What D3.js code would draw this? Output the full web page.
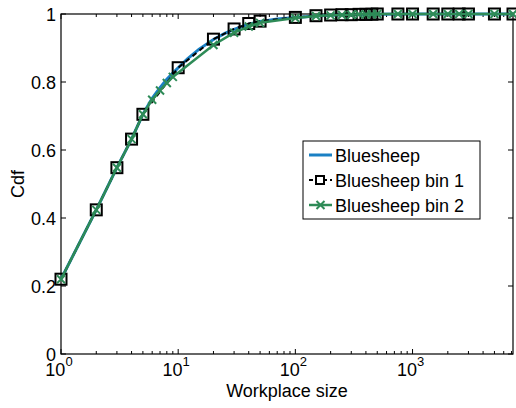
<!DOCTYPE html>
<html>
<head>
<meta charset="utf-8">
<script src="https://cdn.jsdelivr.net/npm/d3@7"></script>
<style>
  body { margin: 0; background: #fff; }
  text { font-family: Helvetica, Arial, "Liberation Sans", sans-serif; fill: #000; }
</style>
</head>
<body>
<svg id="chart" width="516" height="408"></svg>
<script>
// unbinned cdf
var blueX = [1, 2, 3, 4, 5, 6, 7, 8, 9, 10, 12, 15, 20, 25, 30, 40, 50, 60, 70, 80, 100, 150, 200, 300, 400, 500, 1000, 2000, 7200];
var blueY = [0.22, 0.424, 0.548, 0.632, 0.705, 0.752, 0.783, 0.808, 0.826, 0.842, 0.868, 0.896, 0.925, 0.943, 0.955, 0.970, 0.978, 0.982, 0.985, 0.987, 0.990, 0.994, 0.996, 0.998, 0.999, 0.9995, 1, 1, 1];

// bin 1 (squares)
var bin1X = [1, 2, 3, 4, 5, 10, 20, 30, 40, 50, 100, 150, 200, 250, 300, 350, 400, 450, 500, 750, 1000, 1500, 2000, 2500, 3000, 5000, 7200];
var bin1Y = [0.22, 0.424, 0.548, 0.632, 0.705, 0.842, 0.926, 0.956, 0.972, 0.979, 0.990, 0.995, 0.997, 0.998, 0.998, 0.999, 0.999, 0.9995, 1, 1, 1, 1, 1, 1, 1, 1, 1];

// bin 2 (crosses)
var bin2X = [1, 2, 3, 4, 5, 6, 7, 8, 9, 20, 30, 40, 50, 100, 150, 200, 250, 300, 350, 400, 450, 500, 750, 1000, 1500, 2000, 2500, 3000, 5000, 7200];
var bin2Y = [0.22, 0.424, 0.548, 0.632, 0.705, 0.748, 0.775, 0.797, 0.815, 0.909, 0.945, 0.963, 0.974, 0.988, 0.994, 0.996, 0.997, 0.998, 0.999, 0.999, 0.9995, 1, 1, 1, 1, 1, 1, 1, 1, 1];

var yTicks = [0, 0.2, 0.4, 0.6, 0.8, 1];
var yTickLabels = ["0", "0.2", "0.4", "0.6", "0.8", "1"];
var xTicks = [1, 10, 100, 1000];
var xTickExp = ["0", "1", "2", "3"];
var legendNames = ["Bluesheep", "Bluesheep bin 1", "Bluesheep bin 2"];

var blue = "#1a80c4";
var green = "#2e8b57";

var pLeft = 61, pRight = 513, pTop = 14, pBottom = 354;

var svg = d3.select("#chart");

var x = d3.scaleLog().domain([1, 7200]).range([pLeft, pRight]);
var y = d3.scaleLinear().domain([0, 1]).range([pBottom, pTop]);

// minor ticks on log axis
var minor = [];
for (let d = 1; d <= 1000; d *= 10) {
  for (let k = 2; k <= 9; k++) {
    if (d * k <= 7200) minor.push(d * k);
  }
}

var axes = svg.append("g");

// ticks inward on all sides
minor.forEach((v) => {
  axes.append("line").attr("x1", x(v)).attr("x2", x(v)).attr("y1", pBottom).attr("y2", pBottom - 3).attr("stroke", "#000");
  axes.append("line").attr("x1", x(v)).attr("x2", x(v)).attr("y1", pTop).attr("y2", pTop + 3).attr("stroke", "#000");
});
xTicks.forEach((v) => {
  axes.append("line").attr("x1", x(v)).attr("x2", x(v)).attr("y1", pBottom).attr("y2", pBottom - 5).attr("stroke", "#000");
  axes.append("line").attr("x1", x(v)).attr("x2", x(v)).attr("y1", pTop).attr("y2", pTop + 5).attr("stroke", "#000");
});
yTicks.forEach((v) => {
  axes.append("line").attr("x1", pLeft).attr("x2", pLeft + 5).attr("y1", y(v)).attr("y2", y(v)).attr("stroke", "#000");
  axes.append("line").attr("x1", pRight).attr("x2", pRight - 5).attr("y1", y(v)).attr("y2", y(v)).attr("stroke", "#000");
});

axes.append("rect")
  .attr("x", pLeft).attr("y", pTop)
  .attr("width", pRight - pLeft).attr("height", pBottom - pTop)
  .attr("fill", "none").attr("stroke", "#000").attr("stroke-width", 1.2);

// tick labels
yTicks.forEach((v, i) => {
  axes.append("text")
    .attr("x", pLeft - 5).attr("y", y(v) + 6.5)
    .attr("text-anchor", "end")
    .style("font-size", "18px")
    .text(yTickLabels[i]);
});

xTicks.forEach((v, i) => {
  const t = axes.append("text")
    .attr("x", x(v) - 2).attr("y", 376)
    .attr("text-anchor", "middle")
    .style("font-size", "18px");
  t.append("tspan").text("10");
  t.append("tspan").attr("dy", -10).style("font-size", "13px").text(xTickExp[i]);
});

axes.append("text")
  .attr("x", 287).attr("y", 397)
  .attr("text-anchor", "middle")
  .style("font-size", "18px")
  .text("Workplace size");

axes.append("text")
  .attr("transform", "translate(24," + (pTop + pBottom) / 2 + ") rotate(-90)")
  .attr("text-anchor", "middle")
  .style("font-size", "18px")
  .text("Cdf");

var line = d3.line().x((d) => x(d[0])).y((d) => y(d[1]));

var blueData = blueX.map((v, i) => [v, blueY[i]]);
var bin1Data = bin1X.map((v, i) => [v, bin1Y[i]]);
var bin2Data = bin2X.map((v, i) => [v, bin2Y[i]]);

var plot = svg.append("g");

plot.append("path").datum(blueData).attr("d", line)
  .attr("fill", "none").attr("stroke", blue).attr("stroke-width", 3);

plot.append("path").datum(bin1Data).attr("d", line)
  .attr("fill", "none").attr("stroke", "#000").attr("stroke-width", 2)
  .attr("stroke-dasharray", "5,4");

plot.selectAll("rect.sq").data(bin1Data).enter().append("rect")
  .attr("class", "sq")
  .attr("x", (d) => x(d[0]) - 5.5).attr("y", (d) => y(d[1]) - 5.5)
  .attr("width", 11).attr("height", 11)
  .attr("fill", "none").attr("stroke", "#000").attr("stroke-width", 2);

plot.append("path").datum(bin2Data).attr("d", line)
  .attr("fill", "none").attr("stroke", green).attr("stroke-width", 2.5);

plot.selectAll("path.cx").data(bin2Data).enter().append("path")
  .attr("class", "cx")
  .attr("transform", (d) => "translate(" + x(d[0]) + "," + y(d[1]) + ")")
  .attr("d", "M-4,-4L4,4M-4,4L4,-4")
  .attr("stroke", green).attr("stroke-width", 2);

// legend
var legend = svg.append("g");
legend.append("rect")
  .attr("x", 303).attr("y", 141).attr("width", 177).attr("height", 78)
  .attr("fill", "#fff").attr("stroke", "#000").attr("stroke-width", 1);

var ly = [155, 180, 205];
legendNames.forEach((name, i) => {
  const yy = ly[i];
  if (i === 0) {
    legend.append("line").attr("x1", 309).attr("x2", 332).attr("y1", yy).attr("y2", yy)
      .attr("stroke", blue).attr("stroke-width", 3);
  } else if (i === 1) {
    legend.append("line").attr("x1", 309).attr("x2", 332).attr("y1", yy).attr("y2", yy)
      .attr("stroke", "#000").attr("stroke-width", 2).attr("stroke-dasharray", "4,3");
    legend.append("rect").attr("x", 316).attr("y", yy - 4).attr("width", 8).attr("height", 8)
      .attr("fill", "#fff").attr("stroke", "#000").attr("stroke-width", 2);
  } else {
    legend.append("line").attr("x1", 309).attr("x2", 332).attr("y1", yy).attr("y2", yy)
      .attr("stroke", green).attr("stroke-width", 2.5);
    legend.append("path").attr("transform", "translate(320.5," + yy + ")")
      .attr("d", "M-4,-4L4,4M-4,4L4,-4").attr("stroke", green).attr("stroke-width", 2);
  }
  legend.append("text")
    .attr("x", 335).attr("y", yy + 6.5)
    .style("font-size", "18px")
    .text(name);
});
</script>
</body>
</html>
